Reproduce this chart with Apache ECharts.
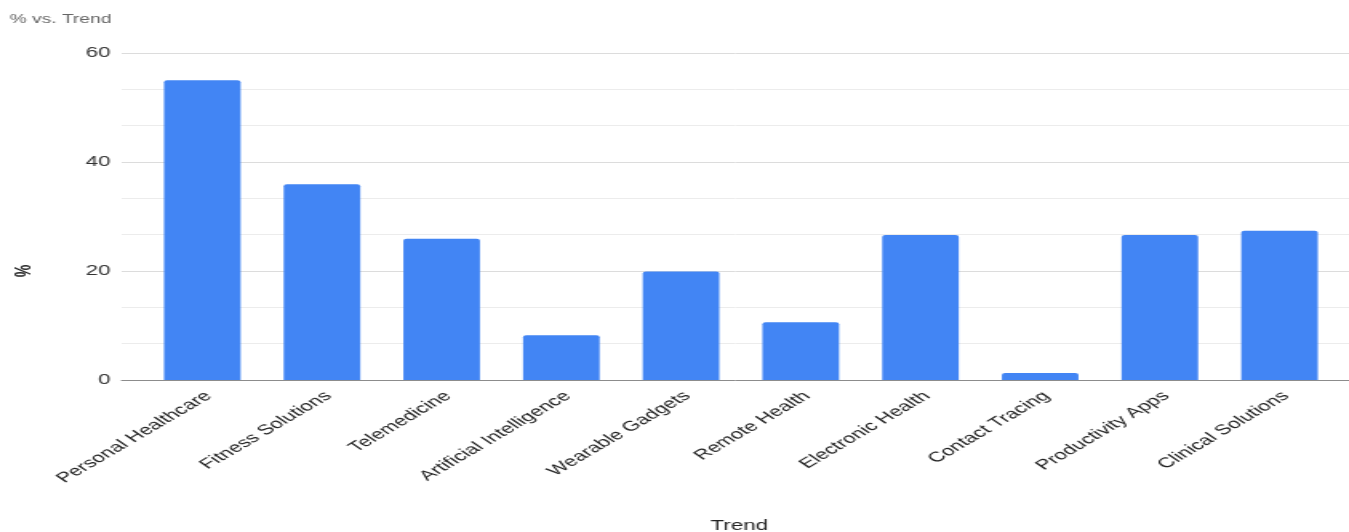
<!DOCTYPE html>
<html>
<head>
<meta charset="utf-8">
<script src="https://cdn.jsdelivr.net/npm/echarts@6/dist/echarts.min.js"></script>
<style>
html,body{margin:0;padding:0;background:#fff;overflow:hidden}
#wrap{width:1349px;height:532px;overflow:hidden}
#c{width:843px;height:532px;transform:scaleX(1.6002);transform-origin:0 0}
</style>
</head>
<body>
<div id="wrap"><div id="c"></div></div>
<script>
var categories = ["Personal Healthcare","Fitness Solutions","Telemedicine","Artificial Intelligence","Wearable Gadgets","Remote Health","Electronic Health","Contact Tracing","Productivity Apps","Clinical Solutions"];
var values = [55, 35.9, 25.9, 8.2, 19.9, 10.6, 26.6, 1.3, 26.6, 27.4];
var yTicks = [0, 20, 40, 60];

var chart = echarts.init(document.getElementById('c'));
var font = 'Arial, "Liberation Sans", sans-serif';
chart.setOption({
  animation: false,
  title: [
    {text: '% vs. Trend', left: 6, top: 14, padding: 0, textStyle: {fontSize: 12, fontWeight: 'normal', color: '#666', fontFamily: font}},
    {text: 'Trend', left: 462, top: 519, padding: 0, textAlign: 'center', textStyle: {fontSize: 14, fontWeight: 'normal', color: '#222', fontFamily: font}}
  ],
  graphic: [
    {type: 'text', x: 12.5, y: 271, rotation: -Math.PI / 2,
     style: {text: '%', fontSize: 14, fontWeight: 'bold', fill: '#222', fontFamily: font, align: 'center', verticalAlign: 'middle'}}
  ],
  grid: [
    {left: 76, right: 0, top: 53, height: 327},
    {left: 89, right: 6, top: 53, height: 327},
    {left: 93, right: 2, top: 53, height: 327}
  ],
  xAxis: [
    {gridIndex: 0, type: 'value', min: 0, max: 1, axisLabel: {show: false}, axisTick: {show: false}, splitLine: {show: false},
     axisLine: {show: true, lineStyle: {color: '#8c8c8c', width: 1}}},
    {gridIndex: 1, type: 'category', data: categories, axisLine: {show: false}, axisTick: {show: false},
     axisLabel: {show: false}},
    {gridIndex: 2, type: 'category', data: categories, axisLine: {show: false}, axisTick: {show: false},
     axisLabel: {rotate: 43, fontSize: 14, color: '#222', margin: 14, fontFamily: font, interval: 0}}
  ],
  yAxis: [
    {gridIndex: 0, type: 'value', min: yTicks[0], max: yTicks[yTicks.length - 1], interval: 20,
     axisLine: {show: false}, axisTick: {show: false},
     axisLabel: {fontSize: 14, color: '#333', margin: 7, fontFamily: font},
     splitLine: {lineStyle: {color: '#dcdcdc', width: 1}},
     minorTick: {show: false, splitNumber: 3},
     minorSplitLine: {show: true, lineStyle: {color: '#ececec', width: 1}}},
    {gridIndex: 1, type: 'value', min: 0, max: 60, show: false},
    {gridIndex: 2, type: 'value', min: 0, max: 60, show: false}
  ],
  series: [{
    type: 'bar', xAxisIndex: 1, yAxisIndex: 1, data: values, barWidth: '64%',
    itemStyle: {color: '#4285F4', borderRadius: [2, 2, 0, 0]}
  }]
});
</script>
</body>
</html>
